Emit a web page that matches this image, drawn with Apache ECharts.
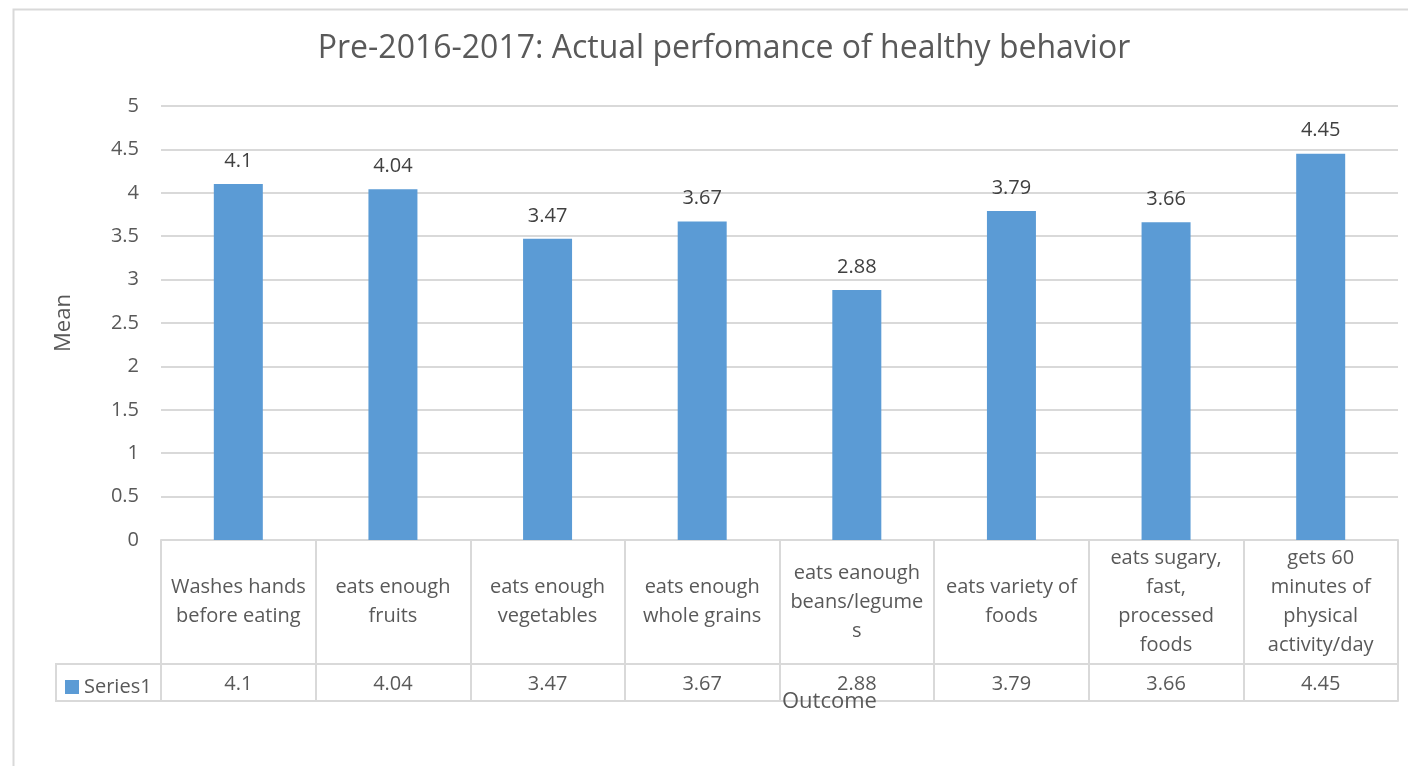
<!DOCTYPE html>
<html>
<head>
<meta charset="utf-8">
<script src="https://cdn.jsdelivr.net/npm/echarts@6/dist/echarts.min.js"></script>
<style>
  html, body { margin: 0; padding: 0; background: #fff; }
  #chart { width: 1408px; height: 766px; }
</style>
</head>
<body>
<div id="chart"></div>
<script>
const categories = [
  "Washes hands\nbefore eating",
  "eats enough\nfruits",
  "eats enough\nvegetables",
  "eats enough\nwhole grains",
  "eats eanough\nbeans/legume\ns",
  "eats variety of\nfoods",
  "eats sugary,\nfast,\nprocessed\nfoods",
  "gets 60\nminutes of\nphysical\nactivity/day"
];
const series1 = [4.1, 4.04, 3.47, 3.67, 2.88, 3.79, 3.66, 4.45];
const yTicks = { min: 0, max: 5, interval: 0.5 };

const font = "'Open Sans', 'Liberation Sans', sans-serif";
const textGray = "#595959";
const lineGray = "#d9d9d9";
const gridLeft = 161, gridRight = 10, gridTop = 106, gridBottom = 226;
const headRow = 124, valueRow = 37;

const chart = echarts.init(document.getElementById("chart"));
chart.setOption({
  animation: false,
  textStyle: { fontFamily: font },
  title: [
    {
      text: "Pre-2016-2017: Actual perfomance of healthy behavior",
      left: 719,
      top: 28,
      textAlign: "center",
      textStyle: { fontFamily: font, fontSize: 32, fontWeight: "normal", color: textGray }
    },
    {
      text: "Outcome",
      left: 777,
      top: 686,
      textStyle: { fontFamily: font, fontSize: 22, fontWeight: "normal", color: textGray }
    }
  ],
  legend: {
    left: 65,
    top: 677,
    padding: 0,
    icon: "rect",
    itemWidth: 14,
    itemHeight: 14,
    itemGap: 6,
    textStyle: { fontFamily: font, fontSize: 20, color: textGray },
    data: ["Series1"]
  },
  grid: { left: gridLeft, right: gridRight, top: gridTop, bottom: gridBottom },
  xAxis: [
    {
      type: "category",
      data: categories,
      boundaryGap: true,
      axisLine: { lineStyle: { color: lineGray, width: 2 } },
      axisTick: { show: true, interval: 0, length: headRow, lineStyle: { color: lineGray, width: 2 } },
      axisLabel: {
        interval: 0,
        margin: headRow / 2,
        verticalAlign: "middle",
        fontSize: 20,
        lineHeight: 29,
        color: textGray,
        fontFamily: font
      }
    },
    {
      type: "category",
      data: series1.map(String),
      position: "bottom",
      offset: headRow,
      boundaryGap: true,
      axisLine: { show: true, lineStyle: { color: lineGray, width: 2 } },
      axisTick: { show: true, interval: 0, length: valueRow, lineStyle: { color: lineGray, width: 2 } },
      axisLabel: {
        interval: 0,
        margin: 20,
        verticalAlign: "middle",
        fontSize: 20,
        color: textGray,
        fontFamily: font
      }
    },
    {
      type: "category",
      data: categories,
      position: "bottom",
      offset: headRow + valueRow,
      axisLine: { show: true, lineStyle: { color: lineGray, width: 2 } },
      axisTick: { show: false },
      axisLabel: { show: false }
    }
  ],
  yAxis: {
    type: "value",
    min: yTicks.min,
    max: yTicks.max,
    interval: yTicks.interval,
    name: "Mean",
    nameLocation: "middle",
    nameGap: 86,
    nameTextStyle: { fontFamily: font, fontSize: 22, color: textGray },
    axisLine: { show: false },
    axisTick: { show: false },
    axisLabel: { margin: 22, fontSize: 20, color: textGray, fontFamily: font },
    splitLine: { lineStyle: { color: lineGray, width: 2 } }
  },
  series: [
    {
      name: "Series1",
      type: "bar",
      data: series1,
      barWidth: 49,
      itemStyle: { color: "#5b9bd5" },
      label: {
        show: true,
        position: "top",
        distance: 13,
        fontSize: 20,
        color: "#404040",
        fontFamily: font
      }
    }
  ],
  graphic: [
    {
      type: "rect",
      left: 11,
      top: 7,
      shape: { width: 1420, height: 780 },
      style: { fill: null, stroke: lineGray, lineWidth: 2 },
      silent: true,
      z: -1
    },
    {
      type: "polyline",
      shape: {
        points: [
          [gridLeft, 766 - gridBottom + headRow],
          [56, 766 - gridBottom + headRow],
          [56, 766 - gridBottom + headRow + valueRow],
          [gridLeft, 766 - gridBottom + headRow + valueRow]
        ]
      },
      style: { fill: null, stroke: lineGray, lineWidth: 2 },
      silent: true
    }
  ]
});
</script>
</body>
</html>
